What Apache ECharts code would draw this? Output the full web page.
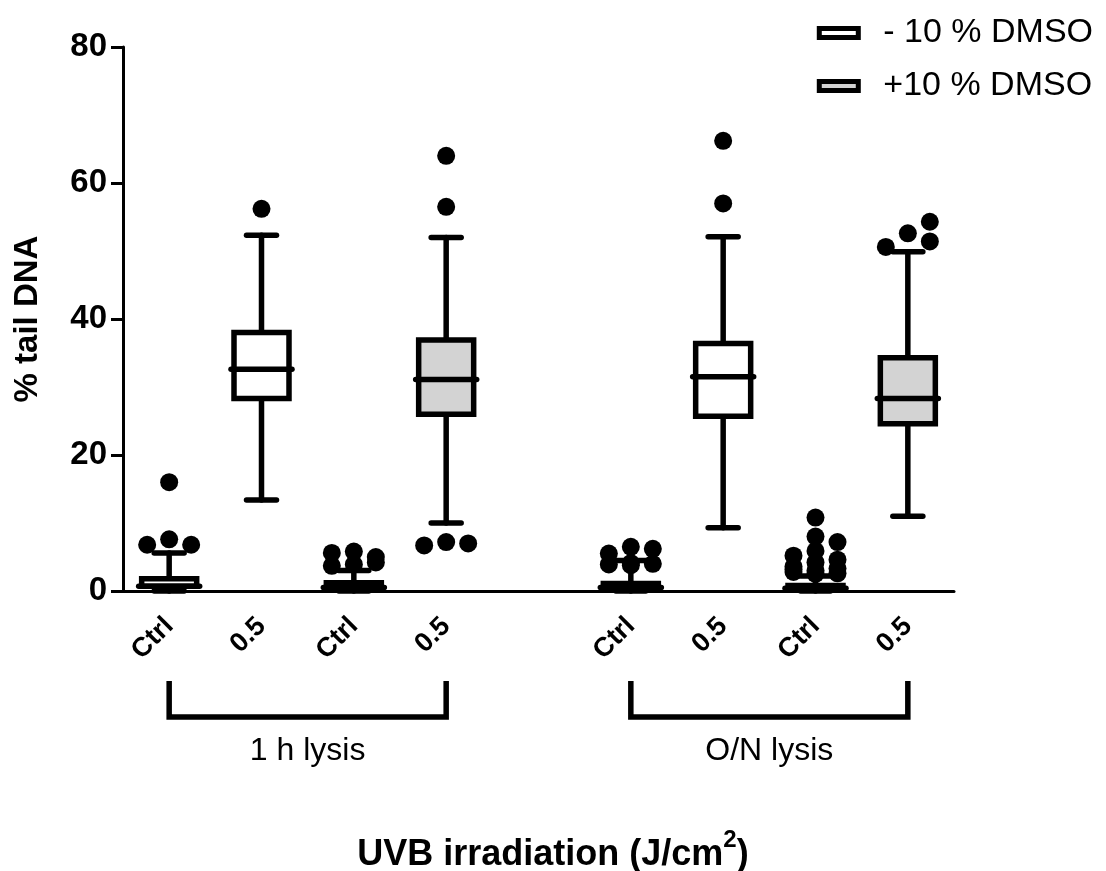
<!DOCTYPE html>
<html>
<head>
<meta charset="utf-8">
<script src="https://cdn.jsdelivr.net/npm/echarts@6/dist/echarts.min.js"></script>
<style>
  html, body { margin: 0; padding: 0; background: #fff; }
  #chart { width: 1106px; height: 871px; }
</style>
</head>
<body>
<div id="chart"></div>
<script>
// Comet assay: % tail DNA after UVB irradiation, two lysis times, with / without DMSO
const lysisGroups = ['1 h lysis', 'O/N lysis'];
const doseLabels = ['Ctrl', '0.5'];
const dmsoLabels = ['- 10 % DMSO', '+10 % DMSO'];
const yTicks = [0, 20, 40, 60, 80];

// Tukey summaries: [lower whisker, Q1, median, Q3, upper whisker] for Ctrl and 0.5 J/cm2
const oneHourMinusDmso = [[0, 0.7, 0.7, 1.8, 5.6], [13.4, 28.3, 32.6, 38.0, 52.3]];
const oneHourPlusDmso = [[0, 0.3, 0.5, 1.2, 3.0], [10.0, 26.0, 31.1, 36.9, 52.0]];
const overnightMinusDmso = [[0, 0.3, 0.5, 1.1, 4.5], [9.3, 25.7, 31.5, 36.4, 52.1]];
const overnightPlusDmso = [[0, 0.2, 0.4, 0.8, 2.2], [11.0, 24.6, 28.3, 34.3, 49.9]];

// Points beyond the whiskers, Ctrl and 0.5 J/cm2
const oneHourMinusOut = [[16.0, 7.6, 6.8, 6.8], [56.2]];
const oneHourPlusOut = [[5.8, 5.0, 5.6, 3.9, 3.7, 4.2], [64.0, 56.5, 7.2, 7.0, 6.7]];
const overnightMinusOut = [[6.5, 6.2, 5.5, 4.1, 4.0, 3.9, 3.8], [66.2, 57.0]];
const overnightPlusOut = [[10.8, 8.0, 7.2, 5.9, 5.2, 4.6, 4.2, 3.6, 3.3, 3.0, 2.8, 2.6, 3.2, 2.5], [52.6, 54.3, 51.4, 50.6]];

const FONT = '"Liberation Sans", Arial, Helvetica, sans-serif';
const LW = 5.5;        // stroke width of boxes and whiskers
const BOX = 27.5;      // half box width
const CAP = 15;        // half whisker-cap width
const MED = 30.5;      // half median-line width
const DOT = 18;        // outlier dot diameter
const LANE = 22;       // horizontal step between stacked dots
const CLEAR = 14;      // vertical distance below which dots move to another lane
const fills = ['#ffffff', '#d3d3d3'];

// Build the category axis (with a blank slot between lysis groups) and series rows
const statsByGroup = [[oneHourMinusDmso, oneHourPlusDmso], [overnightMinusDmso, overnightPlusDmso]];
const outByGroup = [[oneHourMinusOut, oneHourPlusOut], [overnightMinusOut, overnightPlusOut]];
const categories = [];
const rows = [[], []];
const rowOutliers = [[], []];
const groupSpans = [];
lysisGroups.forEach((g, gi) => {
  if (gi > 0) categories.push('');
  const start = categories.length;
  dmsoLabels.forEach((d, di) => {
    doseLabels.forEach((dose, k) => {
      const idx = categories.length;
      categories.push(dose);
      rows[di].push([idx].concat(statsByGroup[gi][di][k]));
      rowOutliers[di].push(outByGroup[gi][di][k]);
    });
  });
  groupSpans.push([start, 0, categories.length - 1, gi]);
});

function segment(x1, y1, x2, y2) {
  return { type: 'line', shape: { x1, y1, x2, y2 },
    style: { stroke: '#000', lineWidth: LW, lineCap: 'round' } };
}

function boxRenderer(fill, outLists) {
  return function (params, api) {
    const cat = api.value(0);
    const pLw = api.coord([cat, api.value(1)]);
    const x = pLw[0];
    const yLw = pLw[1];
    const yQ1 = api.coord([cat, api.value(2)])[1];
    const yMed = api.coord([cat, api.value(3)])[1];
    const yQ3 = api.coord([cat, api.value(4)])[1];
    const yUw = api.coord([cat, api.value(5)])[1];
    const children = [
      segment(x, yQ3, x, yUw), segment(x - CAP, yUw, x + CAP, yUw),
      segment(x, yQ1, x, yLw), segment(x - CAP, yLw, x + CAP, yLw),
      { type: 'rect', shape: { x: x - BOX, y: yQ3, width: 2 * BOX, height: yQ1 - yQ3 },
        style: { fill: fill, stroke: '#000', lineWidth: LW, lineJoin: 'miter' } },
      segment(x - MED, yMed, x + MED, yMed)
    ];
    // stack dots in lanes (centre, right, left) so they do not pile up
    const placed = [];
    outLists[params.dataIndex].forEach(v => {
      const py = api.coord([cat, v])[1];
      let best = 0, bestGap = -1;
      for (const lane of [0, 1, -1]) {
        let gap = Infinity;
        placed.forEach(p => { if (p.lane === lane) gap = Math.min(gap, Math.abs(p.y - py)); });
        if (gap >= CLEAR) { best = lane; break; }
        if (gap > bestGap) { bestGap = gap; best = lane; }
      }
      placed.push({ lane: best, y: py });
      children.push({ type: 'circle', shape: { cx: x + best * LANE, cy: py, r: DOT / 2 },
        style: { fill: '#000' } });
    });
    return { type: 'group', children };
  };
}

function bracketRenderer(params, api) {
  const a = api.coord([api.value(0), 0]);
  const b = api.coord([api.value(2), 0]);
  const top = a[1] + 90, bottom = a[1] + 126;
  return {
    type: 'group',
    children: [
      { type: 'polyline', shape: { points: [[a[0], top], [a[0], bottom], [b[0], bottom], [b[0], top]] },
        style: { stroke: '#000', lineWidth: LW, fill: null, lineJoin: 'miter' } },
      { type: 'text', style: { text: lysisGroups[api.value(3)], x: (a[0] + b[0]) / 2, y: a[1] + 160,
        align: 'center', verticalAlign: 'middle', fontSize: 32, fontFamily: FONT, fill: '#000' } }
    ]
  };
}

const chart = echarts.init(document.getElementById('chart'), null, { renderer: 'canvas' });
chart.setOption({
  animation: false,
  backgroundColor: '#fff',
  textStyle: { fontFamily: FONT, color: '#000' },
  title: {
    text: '{a|UVB irradiation (J/cm}{s|2}{a|)}',
    left: 'center', top: 829,
    textStyle: {
      rich: {
        a: { fontSize: 36, fontWeight: 'bold', fontFamily: FONT, color: '#000', lineHeight: 42 },
        s: { fontSize: 24, fontWeight: 'bold', fontFamily: FONT, color: '#000', lineHeight: 24,
          padding: [0, 0, 30, 0] }
      }
    }
  },
  legend: {
    orient: 'vertical', right: 8, top: 10, itemGap: 17,
    itemWidth: 39, itemHeight: 9, icon: 'rect',
    textStyle: { fontSize: 34, fontFamily: FONT, color: '#000', lineHeight: 36, padding: [0, 0, 0, 20] },
    data: dmsoLabels.map((name, i) => ({
      name, itemStyle: { color: fills[i], borderColor: '#000', borderWidth: 5 }
    }))
  },
  grid: { left: 123, top: 47, width: 831, height: 544, containLabel: false },
  xAxis: {
    type: 'category',
    data: categories,
    boundaryGap: true,
    axisLine: { lineStyle: { color: '#000', width: 3 } },
    axisTick: { alignWithLabel: true, length: 14, lineStyle: { color: '#000', width: 3 },
      interval: (idx, val) => val !== '' },
    axisLabel: { rotate: 45, margin: 31, fontSize: 27, fontWeight: 'bold', color: '#000', fontFamily: FONT,
      interval: 0 },
    splitLine: { show: false }
  },
  yAxis: {
    type: 'value', min: yTicks[0], max: yTicks[yTicks.length - 1], interval: yTicks[1] - yTicks[0],
    name: '% tail DNA', nameLocation: 'middle', nameGap: 79, nameRotate: 90,
    nameTextStyle: { fontSize: 33, fontWeight: 'bold', color: '#000', fontFamily: FONT },
    axisLine: { show: true, lineStyle: { color: '#000', width: 3 } },
    axisTick: { show: true, length: 12, lineStyle: { color: '#000', width: 3 } },
    axisLabel: { fontSize: 33, fontWeight: 'bold', color: '#000', margin: 16, fontFamily: FONT },
    splitLine: { show: false }
  },
  series: [
    { name: dmsoLabels[0], type: 'custom', data: rows[0], encode: { x: 0, y: [1, 2, 3, 4, 5] },
      itemStyle: { color: fills[0], borderColor: '#000' },
      renderItem: boxRenderer(fills[0], rowOutliers[0]), z: 3 },
    { name: dmsoLabels[1], type: 'custom', data: rows[1], encode: { x: 0, y: [1, 2, 3, 4, 5] },
      itemStyle: { color: fills[1], borderColor: '#000' },
      renderItem: boxRenderer(fills[1], rowOutliers[1]), z: 3 },
    { name: 'brackets', type: 'custom', data: groupSpans, encode: { x: 0, y: 1 },
      clip: false, silent: true, renderItem: bracketRenderer, z: 2 }
  ]
});
</script>
</body>
</html>
